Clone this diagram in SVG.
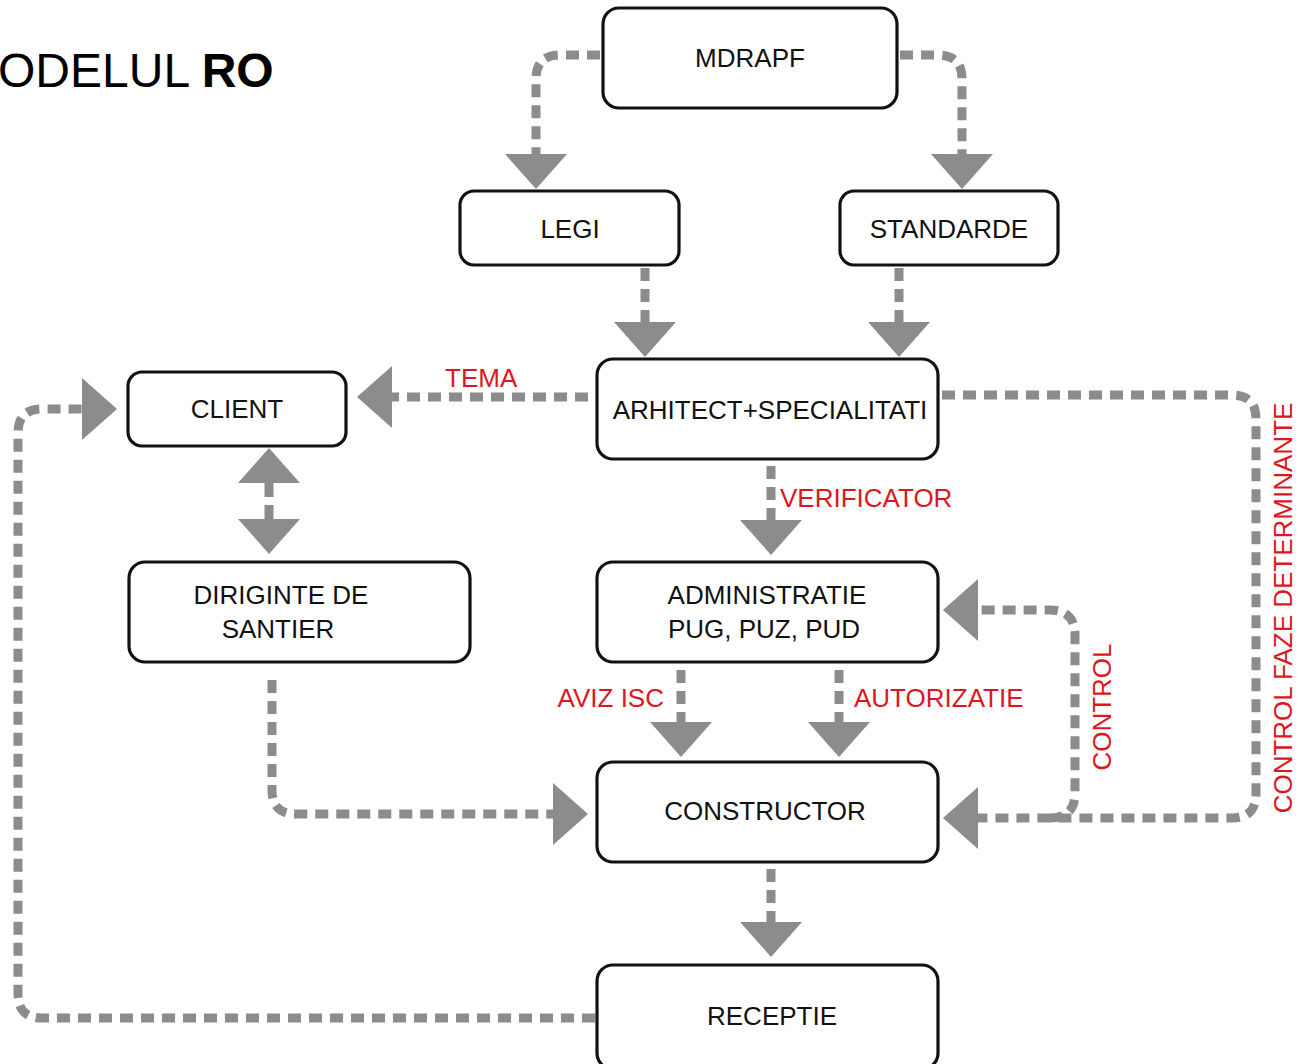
<svg xmlns="http://www.w3.org/2000/svg" width="1299" height="1064" viewBox="0 0 1299 1064">
<style>
.box{fill:#fff;stroke:#111;stroke-width:3.2}
.t{font-family:"Liberation Sans",Arial,sans-serif;font-size:26px;fill:#111;text-anchor:middle}
.r{font-family:"Liberation Sans",Arial,sans-serif;font-size:26px;fill:#dc1720}
.c{fill:none;stroke:#8c8c8c;stroke-width:9;stroke-dasharray:13 8}
</style>
<defs>
<marker id="ah" markerUnits="userSpaceOnUse" viewBox="0 -31 36 62" refX="0" refY="0" markerWidth="36" markerHeight="62" orient="auto-start-reverse">
<path d="M0,-31 L35,0 L0,31 z" fill="#8c8c8c"/>
</marker>
</defs>
<rect width="1299" height="1064" fill="#fff"/>
<text x="-2" y="87" font-family="Liberation Sans,Arial,sans-serif" font-size="48" fill="#000">ODELUL <tspan font-weight="bold">RO</tspan></text>

<g id="connectors">
<path class="c" d="M600 55 L560 55 Q536 55 536 79 L536 154" marker-end="url(#ah)"/>
<path class="c" d="M900 55 L938 55 Q962 55 962 79 L962 154" marker-end="url(#ah)"/>
<path class="c" d="M645 268 L645 322" marker-end="url(#ah)"/>
<path class="c" d="M899 268 L899 322" marker-end="url(#ah)"/>
<path class="c" d="M588 397 L392 397" marker-end="url(#ah)"/>
<path class="c" d="M269 483 L269 519" marker-start="url(#ah)" marker-end="url(#ah)" style="stroke-dasharray:14 8"/>
<path class="c" d="M771 466 L771 520" marker-end="url(#ah)"/>
<path class="c" d="M681 670 L681 722" marker-end="url(#ah)"/>
<path class="c" d="M839 670 L839 722" marker-end="url(#ah)"/>
<path class="c" d="M272 680 L272 790 Q272 814 296 814 L553 814" marker-end="url(#ah)"/>
<path class="c" d="M771 869 L771 922" marker-end="url(#ah)"/>
<path class="c" d="M595 1018 L42 1018 Q18 1018 18 994 L18 433 Q18 409 42 409 L82 409" marker-end="url(#ah)"/>
<path class="c" d="M942 395 L1232 395 Q1256 395 1256 419 L1256 794 Q1256 818 1232 818 L978 818" marker-end="url(#ah)"/>
<path class="c" d="M1050 818 Q1075 818 1075 793 L1075 635 Q1075 610 1050 610 L978 610" marker-end="url(#ah)"/>
</g>

<g id="labels">
<text class="r" x="445" y="387">TEMA</text>
<text class="r" x="780" y="507">VERIFICATOR</text>
<text class="r" x="664" y="707" text-anchor="end">AVIZ ISC</text>
<text class="r" x="854" y="707">AUTORIZATIE</text>
<text class="r" transform="translate(1111 707) rotate(-90)" text-anchor="middle">CONTROL</text>
<text class="r" transform="translate(1292 608) rotate(-90)" text-anchor="middle">CONTROL FAZE DETERMINANTE</text>
</g>

<g id="mdrapf"><rect class="box" x="603" y="8" width="294" height="100" rx="16"/><text class="t" x="750" y="67">MDRAPF</text></g>
<g id="legi"><rect class="box" x="460" y="191" width="219" height="74" rx="14"/><text class="t" x="570" y="238">LEGI</text></g>
<g id="standarde"><rect class="box" x="840" y="191" width="218" height="74" rx="14"/><text class="t" x="949" y="238">STANDARDE</text></g>
<g id="arhitect"><rect class="box" x="597" y="359" width="341" height="100" rx="16"/><text class="t" x="770" y="419">ARHITECT+SPECIALITATI</text></g>
<g id="client"><rect class="box" x="128" y="372" width="218" height="74" rx="14"/><text class="t" x="237" y="418">CLIENT</text></g>
<g id="diriginte"><rect class="box" x="129" y="562" width="341" height="100" rx="16"/><text class="t" x="281" y="604">DIRIGINTE DE</text><text class="t" x="278" y="638">SANTIER</text></g>
<g id="administratie"><rect class="box" x="597" y="562" width="341" height="100" rx="16"/><text class="t" x="767" y="604">ADMINISTRATIE</text><text class="t" x="764" y="638">PUG, PUZ, PUD</text></g>
<g id="constructor"><rect class="box" x="597" y="762" width="341" height="100" rx="16"/><text class="t" x="765" y="820">CONSTRUCTOR</text></g>
<g id="receptie"><rect class="box" x="597" y="965" width="341" height="104" rx="16"/><text class="t" x="772" y="1025">RECEPTIE</text></g>
</svg>
